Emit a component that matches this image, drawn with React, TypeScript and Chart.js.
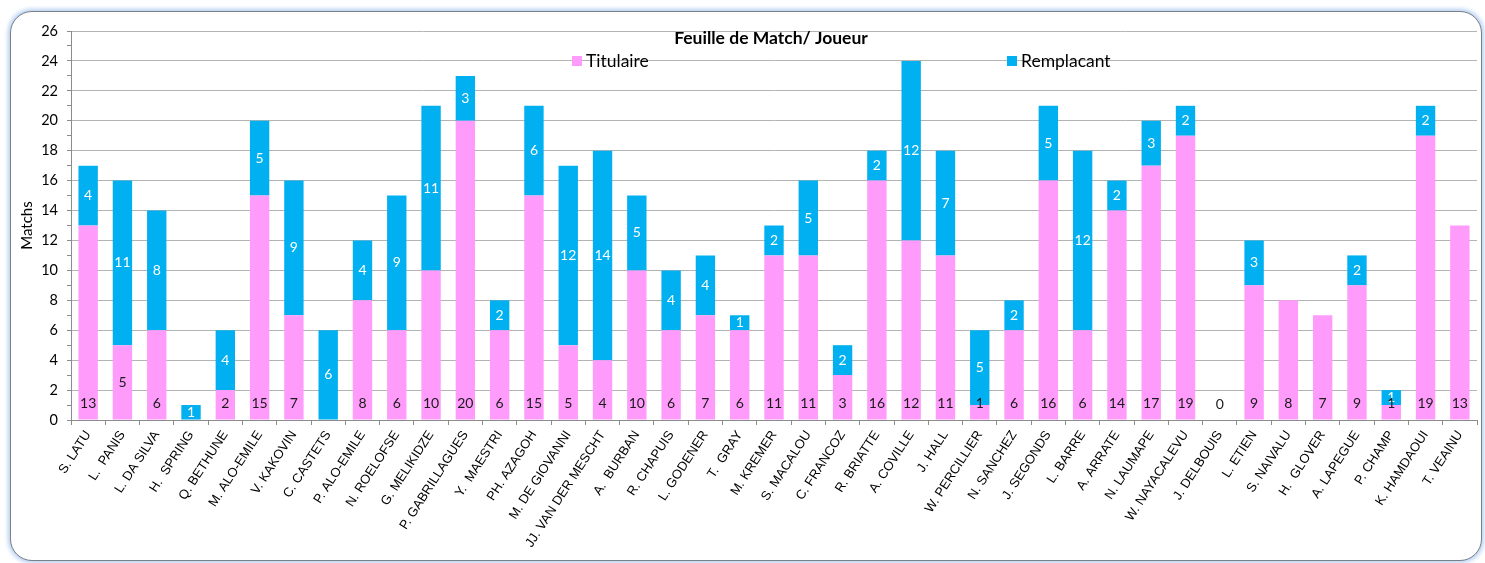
import { useEffect, useRef } from 'react';
import { Chart, registerables } from 'chart.js';

Chart.register(...registerables);

const players = ['S. LATU', 'L.  PANIS', 'L. DA SILVA', 'H.  SPRING', 'Q. BETHUNE', 'M. ALO-EMILE', 'V. KAKOVIN', 'C. CASTETS', 'P. ALO-EMILE', 'N. ROELOFSE', 'G. MELIKIDZE', 'P. GABRILLAGUES', 'Y.  MAESTRI', 'PH. AZAGOH', 'M. DE GIOVANNI', 'JJ. VAN DER MESCHT', 'A.  BURBAN', 'R. CHAPUIS', 'L. GODENER', 'T.  GRAY', 'M. KREMER', 'S. MACALOU', 'C. FRANCOZ', 'R. BRIATTE', 'A. COVILLE', 'J. HALL', 'W. PERCILLIER', 'N. SANCHEZ', 'J. SEGONDS', 'L. BARRE', 'A. ARRATE', 'N. LAUMAPE', 'W. NAYACALEVU', 'J. DELBOUIS', 'L. ETIEN', 'S. NAIVALU', 'H.  GLOVER', 'A. LAPEGUE', 'P. CHAMP', 'K. HAMDAOUI', 'T. VEAINU'];
const titulaire = [13, 5, 6, 0, 2, 15, 7, 0, 8, 6, 10, 20, 6, 15, 5, 4, 10, 6, 7, 6, 11, 11, 3, 16, 12, 11, 1, 6, 16, 6, 14, 17, 19, 0, 9, 8, 7, 9, 1, 19, 13];
const remplacant = [4, 11, 8, 1, 4, 5, 9, 6, 4, 9, 11, 3, 2, 6, 12, 14, 5, 4, 4, 1, 2, 5, 2, 2, 12, 7, 5, 2, 5, 12, 2, 3, 2, 0, 3, 0, 0, 2, 1, 2, 0];
const yTicksMax = 26;
const chartTitle = 'Feuille de Match/ Joueur';
const seriesNames = ['Titulaire', 'Remplacant'];
const yTitle = 'Matchs';
// labels placed mid-bar instead of at the base
const centeredPinkLabels = ['L.  PANIS'];

const PINK = '#FF9BFA';
const BLUE = '#00B0F0';
const LABEL_FONT = '14px Lato';

const labelsPlugin = {
  id: 'labelsPlugin',
  afterDatasetsDraw(chart: any) {
    const ctx = chart.ctx;
    ctx.save();
    ctx.font = LABEL_FONT;
    ctx.textAlign = 'center';
    ctx.textBaseline = 'middle';
    const m0 = chart.getDatasetMeta(0);
    const m1 = chart.getDatasetMeta(1);
    m1.data.forEach((el: any, i: number) => {
      const v = remplacant[i];
      if (v > 0) {
        ctx.fillStyle = '#ffffff';
        ctx.fillText(String(v), el.x, (el.y + el.base) / 2);
      }
    });
    m0.data.forEach((el: any, i: number) => {
      const v = titulaire[i];
      if (v > 0 || remplacant[i] === 0) {
        ctx.fillStyle = '#1a1a1a';
        const y = centeredPinkLabels.includes(players[i]) ? (el.y + el.base) / 2 : el.base - 16;
        ctx.fillText(String(v), el.x, y);
      }
    });
    ctx.restore();
  },
  afterDraw(chart: any) {
    const ctx = chart.ctx;
    ctx.save();
    ctx.textBaseline = 'middle';
    ctx.fillStyle = '#000';
    ctx.font = 'bold 17.5px Lato';
    ctx.textAlign = 'center';
    ctx.fillText(chartTitle, 771, 38);
    ctx.font = '17.5px Lato';
    ctx.textAlign = 'left';
    const items = [
      { x: 572, color: PINK, text: seriesNames[0] },
      { x: 1007, color: BLUE, text: seriesNames[1] },
    ];
    items.forEach((it) => {
      ctx.fillStyle = it.color;
      ctx.fillRect(it.x, 56, 10, 10);
      ctx.fillStyle = '#000';
      ctx.fillText(it.text, it.x + 14, 61);
    });
    ctx.restore();
  },
};

export default function App() {
  const ref = useRef<HTMLCanvasElement | null>(null);
  useEffect(() => {
    if (!ref.current) return;
    const chart = new Chart(ref.current, {
      type: 'bar',
      data: {
        labels: players,
        datasets: [
          { label: seriesNames[0], data: titulaire, backgroundColor: PINK, barPercentage: 0.565, categoryPercentage: 1 },
          { label: seriesNames[1], data: remplacant, backgroundColor: BLUE, barPercentage: 0.565, categoryPercentage: 1 },
        ],
      },
      options: {
        animation: false,
        responsive: false,
        maintainAspectRatio: false,
        layout: { padding: { top: 31, right: 8, bottom: 0, left: 0 } },
        plugins: { legend: { display: false }, title: { display: false }, tooltip: { enabled: false } },
        scales: {
          x: {
            stacked: true,
            afterFit: (s: any) => { s.height = 143; },
            grid: { drawOnChartArea: false, offset: true, tickLength: 5, tickColor: '#8c8c8c' },
            border: { color: '#8c8c8c' },
            ticks: {
              autoSkip: false,
              minRotation: 57,
              maxRotation: 57,
              padding: 3,
              color: '#000',
              font: { family: 'Liberation Sans', size: 13 },
            },
          },
          y: {
            stacked: true,
            min: 0,
            max: yTicksMax,
            afterFit: (s: any) => { s.width = 71; },
            grid: {
              color: (c: any) => (c.tick && c.tick.value % 2 === 0 ? '#b4b4b4' : 'transparent'),
              tickColor: '#8c8c8c',
              tickLength: 4,
            },
            border: { color: '#8c8c8c' },
            title: { display: true, text: yTitle, color: '#000', font: { family: 'Lato', size: 15 }, padding: { top: 18, bottom: 0 } },
            ticks: {
              stepSize: 1,
              autoSkip: false,
              padding: 9,
              color: '#000',
              font: { family: 'Lato', size: 14.5 },
              callback: (v: any) => (Number(v) % 2 === 0 ? String(v) : ''),
            },
          },
        },
      },
      plugins: [labelsPlugin],
    });
    return () => chart.destroy();
  }, []);
  return (
    <div style={{ position: 'absolute', left: 0, top: 0, width: 1485, height: 563, background: '#fff' }}>
      <div
        style={{
          position: 'absolute', left: 10, top: 11, width: 1472, height: 550, boxSizing: 'border-box',
          border: '1px solid #7a7f88', borderRadius: 22, boxShadow: '0 0 4px 2px #b5cff0', background: '#fff',
        }}
      />
      <canvas ref={ref} width={1485} height={563} style={{ position: 'absolute', left: 0, top: 0 }} />
    </div>
  );
}
